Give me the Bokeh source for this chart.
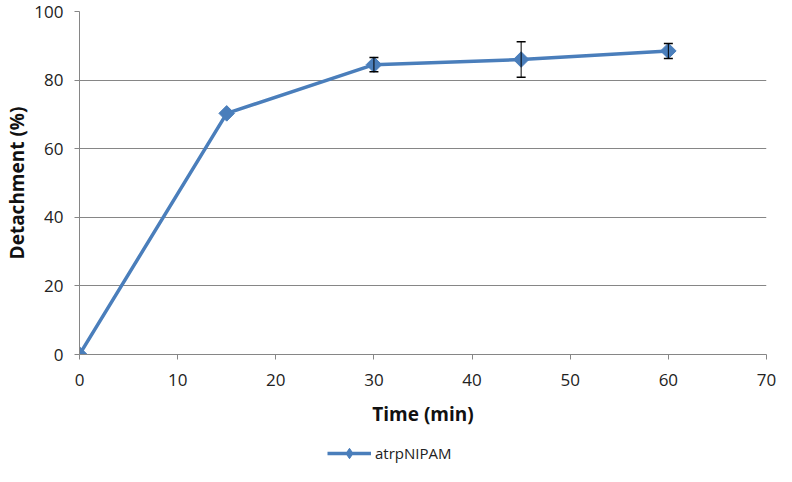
import numpy as np
from bokeh.plotting import figure
from bokeh.layouts import column
from bokeh.models import ColumnDataSource, Whisker, TeeHead, Legend, LegendItem, Range1d, FixedTicker
from bokeh.embed import file_html
from bokeh.resources import INLINE

time_min = [0, 15, 30, 45, 60]
detachment = [0, 70.3, 84.5, 86.0, 88.5]
err = [0, 0, 2.1, 5.2, 2.2]
series_name = "atrpNIPAM"
x_ticks = [0, 10, 20, 30, 40, 50, 60, 70]
y_ticks = [0, 20, 40, 60, 80, 100]

BLUE = "#4A7EBB"
GRAY = "#868686"
FONT = "Open Sans"

p = figure(width=776, height=434, output_backend="svg", toolbar_location=None,
           x_range=Range1d(0, 70), y_range=Range1d(0, 100),
           min_border_left=79, min_border_right=10, min_border_top=11, min_border_bottom=80)
p.outline_line_color = None
p.background_fill_color = "white"

p.xgrid.grid_line_color = None
p.ygrid.grid_line_color = GRAY
p.ygrid.grid_line_width = 1
p.ygrid.ticker = FixedTicker(ticks=y_ticks)

p.xaxis.ticker = FixedTicker(ticks=x_ticks)
p.yaxis.ticker = FixedTicker(ticks=y_ticks)
for ax in (p.xaxis[0], p.yaxis[0]):
    ax.axis_line_color = GRAY
    ax.major_tick_line_color = GRAY
    ax.major_tick_out = 5
    ax.major_tick_in = 0
    ax.minor_tick_line_color = None
    ax.major_label_text_font = FONT
    ax.major_label_text_font_size = "17px"
    ax.major_label_text_color = "#222222"
    ax.axis_label_text_font = FONT
    ax.axis_label_text_font_size = "19px"
    ax.axis_label_text_font_style = "bold"
    ax.axis_label_text_color = "#111111"

p.xaxis.axis_label = "Time (min)"
p.yaxis.axis_label = "Detachment (%)"
p.xaxis.major_label_standoff = 14
p.yaxis.major_label_standoff = 11
p.xaxis.axis_label_standoff = 12
p.yaxis.axis_label_standoff = 1

src = ColumnDataSource(data=dict(x=time_min, y=detachment))
ln = p.line("x", "y", source=src, line_color=BLUE, line_width=3.5)
mk = p.scatter("x", "y", source=src, marker="square", angle=np.pi / 4, size=11,
               fill_color=BLUE, line_color=BLUE)

ex = [t for t, e in zip(time_min, err) if e > 0]
ey = [d for d, e in zip(detachment, err) if e > 0]
ee = [e for e in err if e > 0]
esrc = ColumnDataSource(data=dict(x=ex, upper=[a + b for a, b in zip(ey, ee)],
                                  lower=[a - b for a, b in zip(ey, ee)]))
wh = Whisker(source=esrc, base="x", upper="upper", lower="lower",
             line_color="black", line_width=1, level="overlay",
             upper_head=TeeHead(size=9, line_color="black", line_width=1.5),
             lower_head=TeeHead(size=9, line_color="black", line_width=1.5))
p.add_layout(wh)

# legend strip below the chart (renderers hidden, used only for legend samples)
lf = figure(width=776, height=32, output_backend="svg", toolbar_location=None,
            x_range=Range1d(0, 70), y_range=Range1d(0, 100),
            x_axis_type=None, y_axis_type=None, min_border=0)
lf.outline_line_color = None
lln = lf.line("x", "y", source=src, line_color=BLUE, line_width=3.5, visible=False)
lmk = lf.scatter("x", "y", source=src, marker="diamond", size=17,
                 fill_color=BLUE, line_color=BLUE, visible=False)
legend = Legend(items=[LegendItem(label=series_name, renderers=[lln, lmk])],
                location=(248, 0), orientation="horizontal",
                glyph_width=44, glyph_height=26, label_standoff=4,
                padding=0, margin=0, spacing=0,
                inactive_fill_alpha=0, click_policy="none",
                label_text_font=FONT, label_text_font_size="15px",
                label_text_color="#222222",
                border_line_color=None, background_fill_alpha=0)
lf.add_layout(legend, "center")

open("out.html", "w").write(file_html(column(p, lf, spacing=0), INLINE))
